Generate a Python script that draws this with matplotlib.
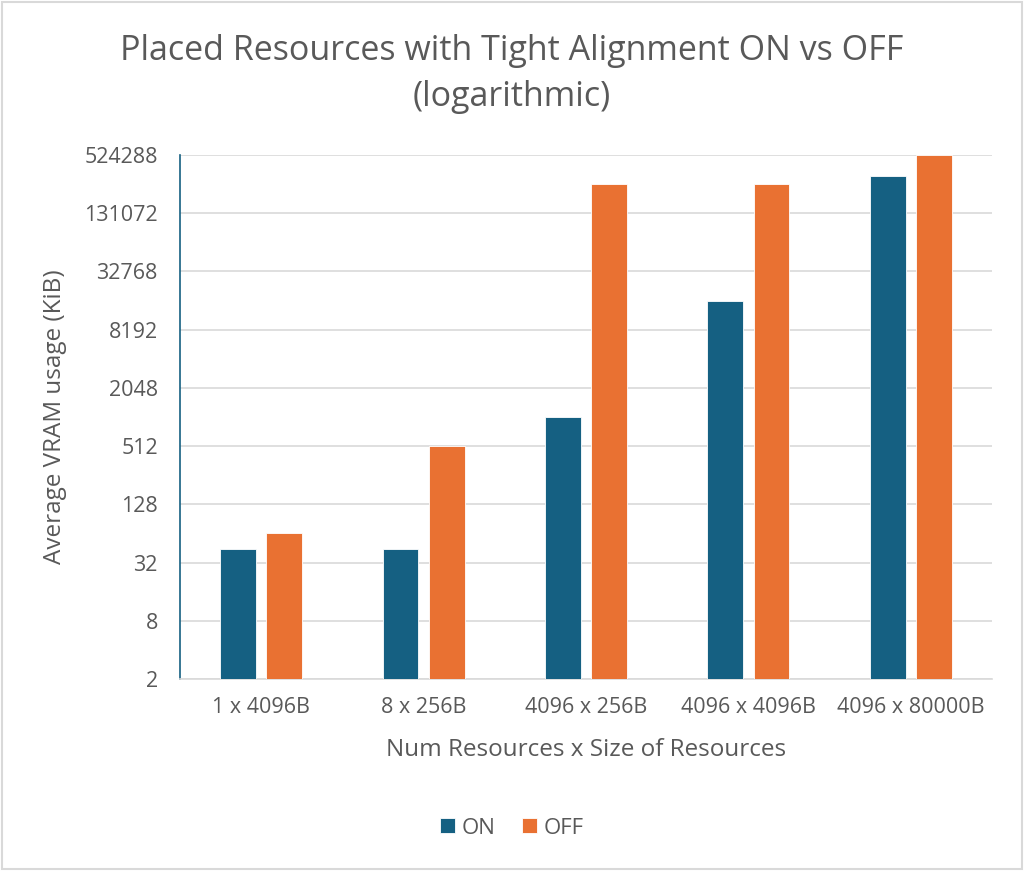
import matplotlib.pyplot as plt
import matplotlib.patches as mpatches
import numpy as np

# --- DATA ---
categories = ['1 x 4096B', '8 x 256B', '4096 x 256B', '4096 x 4096B', '4096 x 80000B']
on_values = [44, 44, 1024, 16384, 320000]
off_values = [64, 512, 262144, 262144, 524288]
y_ticks = [2, 8, 32, 128, 512, 2048, 8192, 32768, 131072, 524288]

ON_COLOR = '#156082'
OFF_COLOR = '#E97132'
TEXT_COLOR = '#595959'

plt.rcParams['font.family'] = ['Open Sans', 'DejaVu Sans']

fig = plt.figure(figsize=(10.24, 8.71), dpi=100)
ax = fig.add_axes([180 / 1024, 1 - 679 / 871, 812 / 1024, (679 - 155) / 871])

x = np.arange(len(categories))
width = 0.22
offset = 0.142
ax.bar(x - offset, on_values, width, color=ON_COLOR, edgecolor='white', linewidth=0.6, label='ON', zorder=3)
ax.bar(x + offset, off_values, width, color=OFF_COLOR, edgecolor='white', linewidth=0.6, label='OFF', zorder=3)

ax.set_yscale('log', base=2)
ax.set_ylim(2, 524288)
ax.set_xlim(-0.5, len(categories) - 0.5)
ax.set_yticks(y_ticks)
ax.set_yticklabels([str(v) for v in y_ticks])
ax.minorticks_off()
ax.set_xticks(x)
ax.set_xticklabels(categories)
ax.tick_params(axis='both', length=0, labelsize=15.5, colors=TEXT_COLOR)
ax.tick_params(axis='y', pad=16)
ax.tick_params(axis='x', pad=13)

ax.grid(axis='y', color='#D9D9D9', linewidth=1.2, zorder=0)
for side in ['top', 'right']:
    ax.spines[side].set_visible(False)
ax.spines['bottom'].set_color('#D9D9D9')
ax.spines['bottom'].set_linewidth(1.2)
ax.spines['left'].set_color(ON_COLOR)
ax.spines['left'].set_linewidth(1.2)

ax.set_xlabel('Num Resources x Size of Resources', fontsize=17.5, color=TEXT_COLOR, labelpad=14)
ax.set_ylabel('Average VRAM usage (KiB)', fontsize=17.5, color=TEXT_COLOR, labelpad=12)

fig.text(0.5, 1 - 74 / 871, 'Placed Resources with Tight Alignment ON vs OFF\n(logarithmic)',
         ha='center', va='center', fontsize=24.5, color=TEXT_COLOR, linespacing=1.5)

fig.legend(loc='center', bbox_to_anchor=(0.5, 1 - 828 / 871), ncol=2, frameon=False,
           fontsize=16, labelcolor=TEXT_COLOR, handlelength=0.68, handleheight=0.68,
           handletextpad=0.3, columnspacing=1.2)

# light outer border like the exported chart area
fig.add_artist(mpatches.Rectangle((0.002, 0.002), 0.996, 0.996, transform=fig.transFigure,
                                  fill=False, edgecolor='#D9D9D9', linewidth=1.5))

fig.savefig('out.png', dpi=100)
